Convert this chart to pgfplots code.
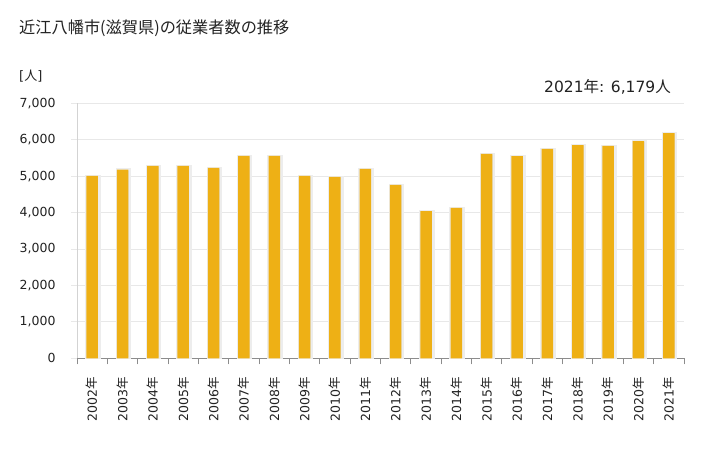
\documentclass[border=0pt]{standalone}
\usepackage{fontspec}
\setmainfont{DejaVu Sans}
\newfontfamily\jp{Noto Sans CJK JP}
\usepackage{pgfplots}
\usepackage{pgfplotstable}
\pgfplotsset{compat=1.18}

\definecolor{barc}{RGB}{238,176,21}
\definecolor{gridc}{RGB}{232,232,232}
\definecolor{axisc}{RGB}{140,140,140}
\definecolor{txt}{RGB}{34,34,34}

% employees per year (2002 = 0 ... 2021 = 19)
\pgfplotstableread{
x y
0 5010
1 5180
2 5280
3 5280
4 5230
5 5560
6 5560
7 5010
8 4980
9 5200
10 4760
11 4040
12 4130
13 5610
14 5550
15 5750
16 5850
17 5830
18 5960
19 6179
}\emp

\begin{document}
\begin{tikzpicture}[x=1pt,y=1pt]
\path[use as bounding box] (0,0) rectangle (728,450);
\node[anchor=west,inner sep=0,text=txt,font=\jp\fontsize{16.2}{18}\selectfont] at (19,422) {近江八幡市(滋賀県)の従業者数の推移};
\node[anchor=west,inner sep=0,text=txt,font=\fontsize{13}{15}\selectfont] at (19,374) {[{\jp 人}]};
\node[anchor=east,inner sep=0,text=txt,font=\fontsize{15.5}{17}\selectfont] at (671,363) {2021{\jp 年}: 6,179{\jp 人}};
\begin{axis}[
    at={(77pt,91.7pt)}, anchor=south west,
    scale only axis, width=607pt, height=255pt,
    xmin=-0.5, xmax=19.5, ymin=0, ymax=7000,
    ytick={0,1000,...,7000},
    xtick={0,...,19},
    minor xtick={-0.5,0.5,...,19.5},
    xticklabels={{2002\jp 年},{2003\jp 年},{2004\jp 年},{2005\jp 年},{2006\jp 年},{2007\jp 年},{2008\jp 年},{2009\jp 年},{2010\jp 年},{2011\jp 年},{2012\jp 年},{2013\jp 年},{2014\jp 年},{2015\jp 年},{2016\jp 年},{2017\jp 年},{2018\jp 年},{2019\jp 年},{2020\jp 年},{2021\jp 年}},
    axis x line*=bottom, axis y line*=left,
    x axis line style={axisc, line width=1pt, -},
    y axis line style={gridc!80!gray, line width=0.8pt, -},
    ymajorgrids, grid style={gridc, line width=0.8pt},
    tick align=outside,
    major x tick style={draw=none},
    minor x tick style={axisc, line width=1pt},
    minor tick length=6pt,
    y tick style={gridc, line width=0.8pt},
    major tick length=6pt,
    /pgf/number format/assume math mode=true,
    /pgf/number format/1000 sep={,},
    tick label style={font=\fontsize{12.5}{14}\selectfont, text=txt},
    yticklabel style={xshift=-12pt},
    xticklabel style={yshift=-9pt, rotate=90, anchor=east},
    clip=true,
]
\addplot[ybar, bar shift=0.8pt, bar width=13pt, fill=black!11, draw=black!7, line width=2.5pt] table[x=x,y=y] {\emp};
\addplot[ybar, bar shift=0pt, bar width=11.5pt, fill=barc, draw=none] table[x=x,y=y] {\emp};
\end{axis}
\end{tikzpicture}
\end{document}
